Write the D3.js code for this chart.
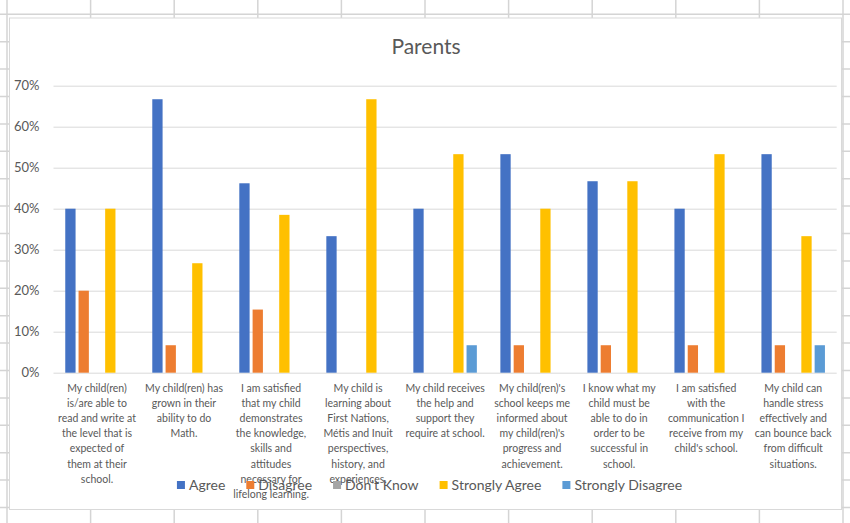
<!doctype html>
<html>
<head>
<meta charset="utf-8">
<script type="text/javascript" src="https://cdn.jsdelivr.net/npm/d3@7"></script>
<style>
  body { margin: 0; background: #fff; }
  svg { display: block; font-family: Lato, "Liberation Sans", sans-serif; }
</style>
</head>
<body>
<svg width="850" height="523"></svg>
<script type="text/javascript">
// survey data
var categories = ["c1","c2","c3","c4","c5","c6","c7","c8","c9"];
var categoryLines = [
  ["My child(ren)","is/are able to","read and write at","the level that is","expected of","them at their","school."],
  ["My child(ren) has","grown in their","ability to do","Math."],
  ["I am satisfied","that my child","demonstrates","the knowledge,","skills and","attitudes","necessary for","lifelong learning."],
  ["My child is","learning about","First Nations,","Métis and Inuit","perspectives,","history, and","experiences."],
  ["My child receives","the help and","support they","require at school."],
  ["My child(ren)'s","school keeps me","informed about","my child(ren)'s","progress and","achievement."],
  ["I know what my","child must be","able to do in","order to be","successful in","school."],
  ["I am satisfied","with the","communication I","receive from my","child's school."],
  ["My child can","handle stress","effectively and","can bounce back","from difficult","situations."]
];
var seriesNames = ["Agree","Disagree","Don't Know","Strongly Agree","Strongly Disagree"];
var seriesColors = ["#4472C4","#ED7D31","#A5A5A5","#FFC000","#5B9BD5"];
var agree         = [0.400, 0.667, 0.462, 0.333, 0.400, 0.533, 0.467, 0.400, 0.533];
var disagree      = [0.200, 0.067, 0.154, 0,     0,     0.067, 0.067, 0.067, 0.067];
var dontKnow      = [0,     0,     0,     0,     0,     0,     0,     0,     0    ];
var stronglyAgree = [0.400, 0.267, 0.385, 0.667, 0.533, 0.400, 0.467, 0.533, 0.333];
var stronglyDis   = [0,     0,     0,     0,     0.067, 0,     0,     0,     0.067];
var yTicks = [0, 0.1, 0.2, 0.3, 0.4, 0.5, 0.6, 0.7];

var seriesValues = [agree, disagree, dontKnow, stronglyAgree, stronglyDis];

var svg = d3.select("svg");

// spreadsheet cells behind the chart
var bg = svg.append("g");
d3.range(0, 11).forEach(function(k) {
  bg.append("line").attr("x1", 7 + 83.6 * k).attr("x2", 7 + 83.6 * k)
    .attr("y1", 0).attr("y2", 523)
    .style("stroke", "#d4d4d4").style("stroke-width", 1.5);
});
d3.range(0, 19).forEach(function(k) {
  bg.append("line").attr("y1", 14.3 + 27.4 * k).attr("y2", 14.3 + 27.4 * k)
    .attr("x1", 0).attr("x2", 850)
    .style("stroke", "#d4d4d4").style("stroke-width", 1.5);
});

// chart area
svg.append("rect")
  .attr("x", 9.5).attr("y", 18).attr("width", 832).attr("height", 491.5)
  .style("fill", "white").style("stroke", "#d9d9d9");

svg.append("text")
  .attr("x", 426).attr("y", 54)
  .attr("text-anchor", "middle")
  .style("font-size", "21px").style("fill", "#595959")
  .text("Parents");

var left = 53.5, right = 836.7;
var y = d3.scaleLinear().domain([0, 0.7]).range([372.7, 85.7]);
var x0 = d3.scaleBand().domain(categories).range([left, right]);
var bw = x0.bandwidth();
var x1 = d3.scaleBand().domain(seriesNames)
  .range([(bw - 66.5) / 2, (bw + 66.5) / 2])
  .paddingInner(0.225).paddingOuter(0.1125);

var yAxis = svg.append("g")
  .attr("transform", "translate(" + left + ",0)")
  .call(d3.axisLeft(y).tickValues(yTicks).tickFormat(d3.format(".0%"))
    .tickSize(-(right - left)).tickPadding(14));
yAxis.select(".domain").remove();
yAxis.selectAll(".tick line").style("stroke", "#d9d9d9");
yAxis.selectAll(".tick text")
  .style("font-family", "Lato, sans-serif").style("font-size", "13px").style("fill", "#595959");

// bars
var groups = svg.selectAll("g.cat")
  .data(categories)
  .enter()
  .append("g")
  .attr("class", "cat")
  .attr("transform", d => "translate(" + x0(d) + ",0)");

groups.selectAll("rect")
  .data((d, i) => seriesNames.map((s, j) => ({ s: s, j: j, v: seriesValues[j][i] })))
  .enter()
  .filter(d => d.v > 0)
  .append("rect")
  .attr("x", d => x1(d.s))
  .attr("width", x1.bandwidth())
  .attr("y", d => y(d.v))
  .attr("height", d => y(0) - y(d.v))
  .style("fill", d => seriesColors[d.j]);

// category labels
groups.append("text")
  .attr("text-anchor", "middle")
  .style("font-size", "10.5px").style("fill", "#595959")
  .selectAll("tspan")
  .data((d, i) => categoryLines[i])
  .enter()
  .append("tspan")
  .attr("x", bw / 2)
  .attr("y", (d, k) => 392 + 15.1 * k)
  .text(d => d);

// legend
var legend = svg.append("g");
var items = legend.selectAll("g")
  .data(seriesNames)
  .enter()
  .append("g");
items.append("rect")
  .attr("width", 8).attr("height", 8).attr("y", 481)
  .style("fill", (d, i) => seriesColors[i]);
items.append("text")
  .attr("x", 12).attr("y", 489.5)
  .style("font-size", "14px").style("fill", "#595959")
  .text(d => d);
var xPos = 0, widths = [];
items.each(function() {
  var w = d3.select(this).select("text").node().getComputedTextLength();
  widths.push(xPos);
  xPos += 12 + w + 21;
});
var total = xPos - 21;
var start = 429.5 - total / 2;
items.attr("transform", (d, i) => "translate(" + (start + widths[i]) + ",0)");
</script>
</body>
</html>
